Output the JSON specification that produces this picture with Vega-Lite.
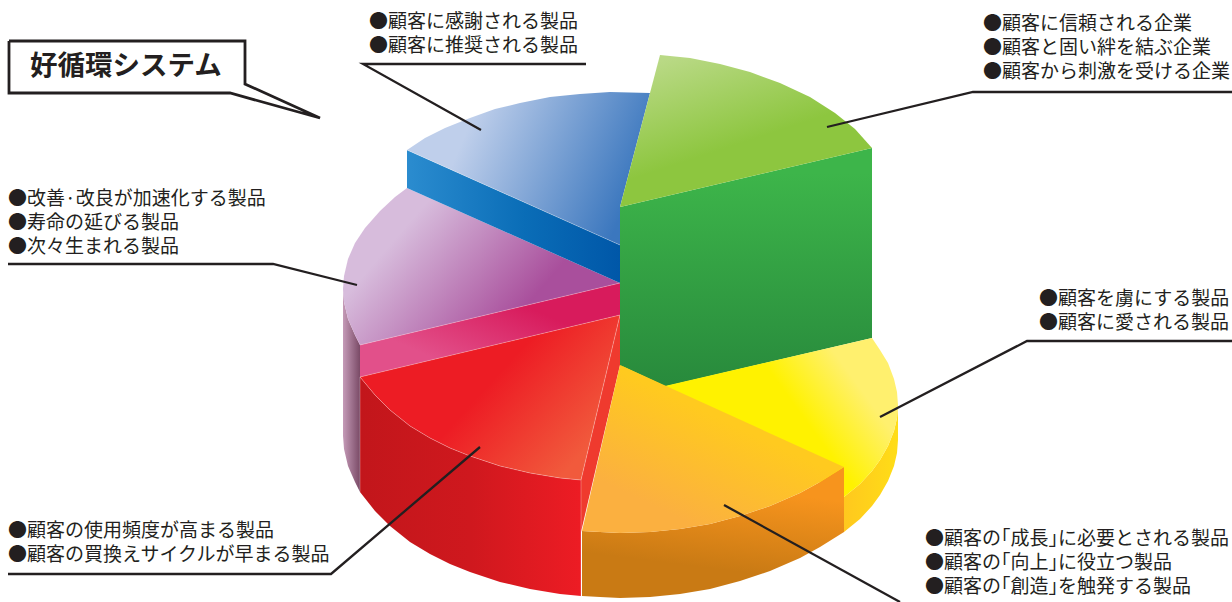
{
"$schema":"https://vega.github.io/schema/vega-lite/v6.json",
"width":1232,"height":602,"padding":0,
"autosize":{"type":"none"},
"background":"white",
"config":{"view":{"stroke":null}},
"datasets":{
"mauveSide":[{"x":343,"y":289},{"x":344,"y":302},{"x":348,"y":319},{"x":355,"y":335},{"x":360,"y":345},{"x":360,"y":492},{"x":355,"y":482},{"x":348,"y":466},{"x":344,"y":449},{"x":343,"y":436}],
"purpleTop":[{"x":620,"y":283},{"x":407,"y":188},{"x":395,"y":197},{"x":380,"y":211},{"x":365,"y":228},{"x":355,"y":243},{"x":348,"y":259},{"x":344,"y":276},{"x":343,"y":289},{"x":344,"y":302},{"x":348,"y":319},{"x":355,"y":335},{"x":360,"y":345}],
"blueWall":[{"x":407,"y":150},{"x":620,"y":245},{"x":620,"y":283},{"x":407,"y":188}],
"blueTop":[{"x":620,"y":245},{"x":407,"y":150},{"x":425,"y":138},{"x":445,"y":128},{"x":470,"y":118},{"x":495,"y":109},{"x":520,"y":103},{"x":550,"y":97},{"x":580,"y":94},{"x":610,"y":92},{"x":650,"y":93},{"x":620,"y":207}],
"pinkWall":[{"x":620,"y":283},{"x":360,"y":345},{"x":360,"y":377},{"x":620,"y":315}],
"redThinWall":[{"x":620,"y":315},{"x":581,"y":480},{"x":581,"y":532},{"x":620,"y":365}],
"redWall":[{"x":360,"y":377},{"x":375,"y":395},{"x":390,"y":410},{"x":410,"y":426},{"x":430,"y":438},{"x":450,"y":448},{"x":470,"y":456},{"x":500,"y":466},{"x":530,"y":473},{"x":560,"y":478},{"x":581,"y":480},{"x":581,"y":596},{"x":560,"y":594},{"x":530,"y":589},{"x":500,"y":582},{"x":470,"y":572},{"x":450,"y":564},{"x":430,"y":554},{"x":410,"y":542},{"x":390,"y":526},{"x":375,"y":511},{"x":360,"y":492}],
"redTop":[{"x":620,"y":315},{"x":360,"y":377},{"x":375,"y":395},{"x":390,"y":410},{"x":410,"y":426},{"x":430,"y":438},{"x":450,"y":448},{"x":470,"y":456},{"x":500,"y":466},{"x":530,"y":473},{"x":560,"y":478},{"x":581,"y":480}],
"greenWall":[{"x":620,"y":207},{"x":872,"y":148},{"x":872,"y":338},{"x":620,"y":397}],
"greenTop":[{"x":620,"y":207},{"x":660,"y":55},{"x":690,"y":58},{"x":720,"y":64},{"x":750,"y":72},{"x":780,"y":83},{"x":810,"y":97},{"x":835,"y":113},{"x":855,"y":129},{"x":872,"y":148}],
"yellowWall":[{"x":898,"y":405},{"x":897,"y":418},{"x":894,"y":431},{"x":888,"y":446},{"x":880,"y":460},{"x":872,"y":471},{"x":860,"y":484},{"x":844,"y":497},{"x":844,"y":532},{"x":860,"y":519},{"x":872,"y":506},{"x":880,"y":495},{"x":888,"y":481},{"x":894,"y":466},{"x":897,"y":453},{"x":898,"y":440}],
"yellowTop":[{"x":620,"y":365},{"x":665,"y":386},{"x":872,"y":338},{"x":880,"y":350},{"x":888,"y":363},{"x":894,"y":379},{"x":897,"y":392},{"x":898,"y":405},{"x":897,"y":418},{"x":894,"y":431},{"x":888,"y":446},{"x":880,"y":460},{"x":872,"y":471},{"x":860,"y":484},{"x":844,"y":497}],
"orangeWall":[{"x":844,"y":467},{"x":820,"y":482},{"x":800,"y":493},{"x":770,"y":506},{"x":740,"y":516},{"x":710,"y":524},{"x":680,"y":529},{"x":650,"y":532},{"x":620,"y":533},{"x":600,"y":532},{"x":582,"y":531},{"x":582,"y":596},{"x":600,"y":597},{"x":620,"y":598},{"x":650,"y":597},{"x":680,"y":594},{"x":710,"y":589},{"x":740,"y":581},{"x":770,"y":571},{"x":800,"y":558},{"x":820,"y":547},{"x":844,"y":532}],
"orangeTop":[{"x":620,"y":365},{"x":844,"y":467},{"x":820,"y":482},{"x":800,"y":493},{"x":770,"y":506},{"x":740,"y":516},{"x":710,"y":524},{"x":680,"y":529},{"x":650,"y":532},{"x":620,"y":533},{"x":600,"y":532},{"x":582,"y":531}],
"edges":[
{"edge":"pinkTop","x":620,"y":283},{"edge":"pinkTop","x":360,"y":345},
{"edge":"redRim","x":620,"y":315},{"edge":"redRim","x":360,"y":377},{"edge":"redRim","x":375,"y":395},{"edge":"redRim","x":390,"y":410},{"edge":"redRim","x":410,"y":426},{"edge":"redRim","x":430,"y":438},{"edge":"redRim","x":450,"y":448},{"edge":"redRim","x":470,"y":456},{"edge":"redRim","x":500,"y":466},{"edge":"redRim","x":530,"y":473},{"edge":"redRim","x":560,"y":478},{"edge":"redRim","x":581,"y":480},{"edge":"redRim","x":620,"y":315},
{"edge":"redCorner","x":581,"y":480},{"edge":"redCorner","x":581,"y":596},
{"edge":"redLeft","x":360,"y":377},{"edge":"redLeft","x":360,"y":492},
{"edge":"blueFold","x":407,"y":150},{"edge":"blueFold","x":620,"y":245}],
"leaders":[
{"leader":"blue","x":586,"y":64},{"leader":"blue","x":363,"y":64},{"leader":"blue","x":481,"y":130},
{"leader":"green","x":1232,"y":92},{"leader":"green","x":973,"y":92},{"leader":"green","x":827,"y":127},
{"leader":"purple","x":8,"y":264},{"leader":"purple","x":273,"y":264},{"leader":"purple","x":357,"y":285},
{"leader":"yellow","x":1232,"y":341},{"leader":"yellow","x":1027,"y":341},{"leader":"yellow","x":880,"y":417},
{"leader":"red","x":8,"y":574},{"leader":"red","x":331,"y":574},{"leader":"red","x":480,"y":447},
{"leader":"orange","x":900,"y":602},{"leader":"orange","x":724,"y":505}],
"callout":[{"x":9,"y":41},{"x":245,"y":41},{"x":245,"y":84},{"x":320,"y":118},{"x":230,"y":93},{"x":9,"y":93},{"x":9,"y":41}],
"labels":[
{"x":369,"y":22,"t":"●顧客に感謝される製品"},
{"x":369,"y":46,"t":"●顧客に推奨される製品"},
{"x":983,"y":24,"t":"●顧客に信頼される企業"},
{"x":983,"y":48,"t":"●顧客と固い絆を結ぶ企業"},
{"x":983,"y":72,"t":"●顧客から刺激を受ける企業"},
{"x":8,"y":199,"t":"●改善·改良が加速化する製品"},
{"x":8,"y":223,"t":"●寿命の延びる製品"},
{"x":8,"y":247,"t":"●次々生まれる製品"},
{"x":1039,"y":299,"t":"●顧客を虜にする製品"},
{"x":1039,"y":323,"t":"●顧客に愛される製品"},
{"x":8,"y":531,"t":"●顧客の使用頻度が高まる製品"},
{"x":8,"y":555,"t":"●顧客の買換えサイクルが早まる製品"},
{"x":925,"y":539,"t":"●顧客の｢成長｣に必要とされる製品"},
{"x":925,"y":563,"t":"●顧客の｢向上｣に役立つ製品"},
{"x":925,"y":587,"t":"●顧客の｢創造｣を触発する製品"}],
"heading":[{"x":30,"y":67,"t":"好循環システム"}]
},
"encoding":{
"x":{"field":"x","type":"quantitative","axis":null,"scale":{"domain":[0,1232],"nice":false,"zero":false}},
"y":{"field":"y","type":"quantitative","axis":null,"scale":{"domain":[602,0],"nice":false,"zero":false}}
},
"layer":[
{"data":{"name":"mauveSide"},"mark":{"type":"line","order":false,"strokeWidth":0,"fill":{"gradient":"linear","x1":0,"y1":0,"x2":1,"y2":0,"stops":[{"offset":0,"color":"#c59bb8"},{"offset":1,"color":"#7a4a66"}]}}},
{"data":{"name":"purpleTop"},"mark":{"type":"line","order":false,"strokeWidth":0,"fill":{"gradient":"linear","x1":0.2,"y1":0.3,"x2":0.75,"y2":0.57,"stops":[{"offset":0,"color":"#d7bcdc"},{"offset":1,"color":"#a94f9c"}]}}},
{"data":{"name":"blueWall"},"mark":{"type":"line","order":false,"strokeWidth":0,"fill":{"gradient":"linear","x1":0,"y1":0,"x2":1,"y2":0,"stops":[{"offset":0,"color":"#2b8ccf"},{"offset":0.55,"color":"#0a6db7"},{"offset":1,"color":"#0057a8"}]}}},
{"data":{"name":"blueTop"},"mark":{"type":"line","order":false,"strokeWidth":0,"fill":{"gradient":"linear","x1":0.22,"y1":0.35,"x2":0.95,"y2":0.55,"stops":[{"offset":0,"color":"#bfcfeb"},{"offset":1,"color":"#3b77be"}]}}},
{"data":{"name":"pinkWall"},"mark":{"type":"line","order":false,"strokeWidth":0,"fill":{"gradient":"linear","x1":0.2,"y1":0.7,"x2":0.68,"y2":0.3,"stops":[{"offset":0,"color":"#e2508a"},{"offset":1,"color":"#d81b5c"}]}}},
{"data":{"name":"redThinWall"},"mark":{"type":"line","order":false,"strokeWidth":0,"fill":"#ef3a2e"}},
{"data":{"name":"redWall"},"mark":{"type":"line","order":false,"strokeWidth":0,"fill":{"gradient":"linear","x1":0,"y1":0,"x2":1,"y2":0,"stops":[{"offset":0,"color":"#c2161b"},{"offset":0.5,"color":"#cf181e"},{"offset":1,"color":"#ed1c24"}]}}},
{"data":{"name":"redTop"},"mark":{"type":"line","order":false,"strokeWidth":0,"fill":{"gradient":"linear","x1":0.45,"y1":0.5,"x2":0.9,"y2":0.76,"stops":[{"offset":0,"color":"#ed1c24"},{"offset":1,"color":"#f15a3c"}]}}},
{"data":{"name":"edges"},"mark":{"type":"line","order":false,"color":"#ffffff","opacity":0.35,"strokeWidth":0.8},"encoding":{"detail":{"field":"edge"}}},
{"data":{"name":"greenWall"},"mark":{"type":"line","order":false,"strokeWidth":0,"fill":{"gradient":"linear","x1":0,"y1":0.1,"x2":0,"y2":0.95,"stops":[{"offset":0,"color":"#3db54a"},{"offset":1,"color":"#288a3c"}]}}},
{"data":{"name":"greenTop"},"mark":{"type":"line","order":false,"strokeWidth":0,"fill":{"gradient":"linear","x1":0.18,"y1":0.03,"x2":0.48,"y2":0.58,"stops":[{"offset":0,"color":"#b9d985"},{"offset":1,"color":"#8dc63f"}]}}},
{"data":{"name":"yellowWall"},"mark":{"type":"line","order":false,"strokeWidth":0,"fill":{"gradient":"linear","x1":0,"y1":0,"x2":1,"y2":0,"stops":[{"offset":0,"color":"#ffc81e"},{"offset":1,"color":"#ffdd17"}]}}},
{"data":{"name":"yellowTop"},"mark":{"type":"line","order":false,"strokeWidth":0,"fill":{"gradient":"linear","x1":0.66,"y1":0.5,"x2":0.9,"y2":0.4,"stops":[{"offset":0,"color":"#fff200"},{"offset":1,"color":"#fff06e"}]}}},
{"data":{"name":"orangeWall"},"mark":{"type":"line","order":false,"strokeWidth":0,"fill":{"gradient":"linear","x1":0.75,"y1":0.2,"x2":0.6,"y2":0.8,"stops":[{"offset":0,"color":"#f7941d"},{"offset":1,"color":"#c97a14"}]}}},
{"data":{"name":"orangeTop"},"mark":{"type":"line","order":false,"strokeWidth":0,"fill":{"gradient":"linear","x1":0.64,"y1":0.4,"x2":0.3,"y2":0.86,"stops":[{"offset":0,"color":"#ffca1f"},{"offset":1,"color":"#fbb040"}]}}},
{"data":{"name":"leaders"},"mark":{"type":"line","order":false,"color":"#231f20","strokeWidth":2.3,"strokeJoin":"miter"},"encoding":{"detail":{"field":"leader"}}},
{"data":{"name":"callout"},"mark":{"type":"line","order":false,"color":"#231f20","strokeWidth":2.8,"strokeJoin":"miter"}},
{"data":{"name":"labels"},"mark":{"type":"text","align":"left","baseline":"middle","font":"Noto Sans CJK JP","fontSize":19,"color":"#231f20"},"encoding":{"text":{"field":"t"}}},
{"data":{"name":"heading"},"mark":{"type":"text","align":"left","baseline":"middle","font":"Noto Sans CJK JP","fontWeight":"bold","fontSize":27.5,"color":"#231f20"},"encoding":{"text":{"field":"t"}}}
]
}
